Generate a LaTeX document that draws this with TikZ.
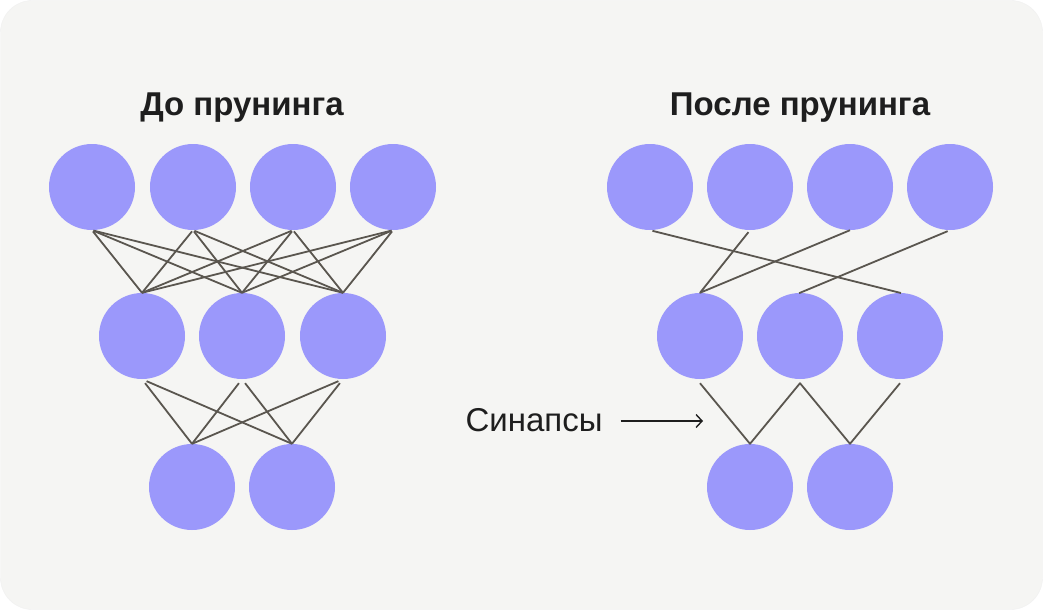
\documentclass[tikz,border=0pt]{standalone}
\usepackage{fontspec}
\setmainfont{Liberation Sans}
\usetikzlibrary{arrows.meta}
\definecolor{bgc}{HTML}{F5F5F3}
\definecolor{neuron}{HTML}{9B98FB}
\definecolor{syn}{HTML}{5A564F}
\definecolor{txt}{HTML}{1E1E1E}
\tikzset{
  neuronnode/.style={circle, fill=neuron, draw=none, minimum size=86pt, inner sep=0pt},
  synline/.style={draw=syn, line width=1.8pt, line join=round},
  title/.style={font=\fontsize{33}{36}\selectfont\bfseries, text=txt, anchor=base, inner sep=0pt},
  label/.style={font=\fontsize{33}{36}\selectfont, text=txt, anchor=base, inner sep=0pt},
}
\begin{document}
\begin{tikzpicture}[x=1pt, y=-1pt]
\useasboundingbox (0,0) rectangle (1043,610);
\fill[white] (0,0) rectangle (1043,610);
\fill[bgc, draw=black!6, rounded corners=32pt] (0.5,0.5) rectangle (1042.5,609.5);

% titles
\node[title] (tl) at (242,115) {До прунинга};
\node[title] (tr) at (800,115) {После прунинга};

% left network
\foreach \i/\x in {1/92,2/193,3/293,4/393} \node[neuronnode] (lt\i) at (\x,187) {};
\foreach \i/\x in {1/142,2/242,3/343} \node[neuronnode] (lm\i) at (\x,336) {};
\foreach \i/\x in {1/192,2/292} \node[neuronnode] (lb\i) at (\x,487) {};

\foreach \a in {1,2,3,4}
  \foreach \b in {1,2,3}
    \draw[synline, shorten <=1.5pt] (lt\a.south) -- (lm\b.north);
\foreach \a in {1,2,3}
  \foreach \b in {1,2}
    \draw[synline, shorten <=5pt] (lm\a.south) -- (lb\b.north);

% right network
\foreach \i/\x in {1/650,2/750,3/850,4/950} \node[neuronnode] (rt\i) at (\x,187) {};
\foreach \i/\x in {1/700,2/800,3/900} \node[neuronnode] (rm\i) at (\x,336) {};
\foreach \i/\x in {1/750,2/850} \node[neuronnode] (rb\i) at (\x,487) {};

\draw[synline, shorten <=2.5pt, shorten >=-1pt] (rt1.south) -- (rm3.north);
\draw[synline, shorten <=2.5pt] (rt2.south) -- (rm1.north) -- (rt3.south);
\draw[synline, shorten <=2.5pt, shorten >=-1pt] (rt4.south) -- (rm2.north);
\draw[synline] ([yshift=-4pt]rm1.south) -- (rb1.north) -- ([yshift=-4pt]rm2.south) -- (rb2.north) -- ([yshift=-4pt]rm3.south);

% synapse label and arrow
\node[label] (synlabel) at (534,431) {Синапсы};
\coordinate (synarrow) at (703,421);
\draw[draw=txt, line width=1.4pt, shorten <=18pt, -{Straight Barb[length=6pt, width=13pt, line width=1.4pt]}]
  (synlabel.east |- synarrow) -- (synarrow);
\end{tikzpicture}
\end{document}
